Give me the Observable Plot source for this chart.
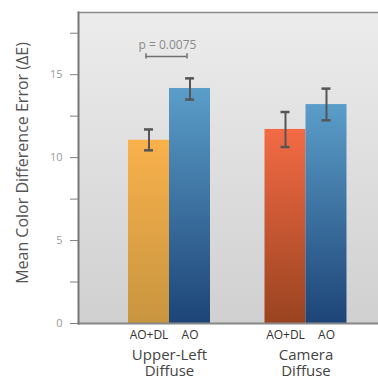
<!DOCTYPE html>
<html>
<head>
<meta charset="utf-8">
<script src="https://cdn.jsdelivr.net/npm/d3@7"></script>
<script src="https://cdn.jsdelivr.net/npm/@observablehq/plot@0.6"></script>
<style>
  html, body { margin: 0; padding: 0; background: #fff; overflow: hidden; }
  svg { display: block; }
</style>
</head>
<body>
<div id="chart"></div>
<script>
// ---- data ----
const groups = ["Upper-Left\nDiffuse", "Upper-Left\nDiffuse", "Camera\nDiffuse", "Camera\nDiffuse"];
const conditions = ["AO+DL", "AO", "AO+DL", "AO"];
const means = [11.05, 14.17, 11.7, 13.2];
const errLow = [10.44, 13.5, 10.64, 12.25];
const errHigh = [11.7, 14.78, 12.75, 14.16];
const groupOrder = ["Upper-Left\nDiffuse", "Camera\nDiffuse"];
const conditionOrder = ["AO+DL", "AO"];
const yTicks = [0, 2.5, 5, 7.5, 10, 12.5, 15, 17.5];
const yTickLabels = ["0", "", "5", "", "10", "", "15", ""];
const yLabel = "Mean Color Difference Error (\u0394E)";
const pGroup = ["Upper-Left\nDiffuse"];
const pText = ["p = 0.0075"];
const yMax = 18.75;

const rows = groups.map((g, i) => ({group: g, cond: conditions[i], mean: means[i], lo: errLow[i], hi: errHigh[i]}));
const gradFor = d => d.cond === "AO" ? "url(#g-blue)" : (d.group.startsWith("Upper") ? "url(#g-amber)" : "url(#g-red)");
const pRows = pGroup.map((g, i) => ({group: g, text: pText[i]}));

const font = "'Open Sans', sans-serif";
const W = 378, H = 379, ML = 78, MR = 0, MT = 12, MB = 56;
const xOptions = {domain: groupOrder, paddingInner: 0.3993, paddingOuter: 0.2986, align: 0.6135, round: false};
// each group band is split in two halves, one per condition (same band geometry as Plot's x scale)
const band = d3.scaleBand().domain(groupOrder).range([ML, W - MR])
  .paddingInner(xOptions.paddingInner).paddingOuter(xOptions.paddingOuter).align(xOptions.align);
const half = band.bandwidth() / 2;
const shift = c => (conditionOrder.indexOf(c) - 0.5) * half;

const perCondition = conditionOrder.flatMap((c, k) => {
  const sub = rows.filter(d => d.cond === c);
  return [
    Plot.barY(sub, {x: "group", y: "mean", fill: gradFor, insetLeft: k * half, insetRight: (1 - k) * half}),
    Plot.ruleX(sub, {x: "group", y1: "lo", y2: "hi", dx: shift(c), stroke: "#555", strokeWidth: 2}),
    Plot.tickY(sub, {x: "group", y: "lo", insetLeft: k * half + 16, insetRight: (1 - k) * half + 16, stroke: "#555", strokeWidth: 2.5}),
    Plot.tickY(sub, {x: "group", y: "hi", insetLeft: k * half + 16, insetRight: (1 - k) * half + 16, stroke: "#555", strokeWidth: 2.5}),
    Plot.text(sub, {x: "group", text: "cond", frameAnchor: "bottom", lineAnchor: "top", dy: 7, dx: shift(c), fill: "#333", fontSize: 12})
  ];
});

const chart = Plot.plot({
  width: W,
  height: H,
  marginLeft: ML,
  marginRight: MR,
  marginTop: MT,
  marginBottom: MB,
  style: {fontFamily: font, background: "#fff"},
  x: {...xOptions, axis: null, label: null},
  y: {domain: [0, yMax], axis: null, label: null},
  color: {type: "identity"},
  marks: [
    Plot.frame({fill: "url(#g-bg)", stroke: null}),
    ...perCondition,
    Plot.frame({anchor: "top", stroke: "#8a8a8a", strokeWidth: 1.5}),
    Plot.frame({anchor: "bottom", stroke: "#878787", strokeWidth: 2}),
    Plot.frame({anchor: "left", stroke: "#777", strokeWidth: 2}),
    // significance bracket between the two halves of the group
    Plot.ruleY(pRows, {x1: "group", x2: "group", y: () => 16.1, stroke: "#707070", strokeWidth: 1.5, insetLeft: half / 2 - 3, insetRight: half / 2 + 3}),
    ...conditionOrder.map(c => Plot.ruleX(pRows, {x: "group", y1: () => 15.95, y2: () => 16.27, dx: shift(c) - 3, stroke: "#707070", strokeWidth: 1.5})),
    Plot.text(pRows, {x: "group", y: () => 16.8, text: "text", fill: "#8a8a8a", fontSize: 12, dx: -2}),
    // axes
    Plot.axisY({ticks: yTicks, tickFormat: (d, i) => yTickLabels[i], tickSize: 8, tickPadding: 8, stroke: "#808080", fill: "#9a9a9a", fontSize: 11, label: null}),
    Plot.text([yLabel], {frameAnchor: "left", textAnchor: "middle", rotate: -90, dx: -56, dy: -5, fill: "#555", fontSize: 16}),
    Plot.axisX({anchor: "bottom", tickSize: 0, tickPadding: 25, fill: "#444", fontSize: 15, lineHeight: 1.08, label: null})
  ]
});

const svg = d3.select(chart);
const defs = svg.insert("defs", ":first-child");
function grad(id, top, bottom) {
  const g = defs.append("linearGradient").attr("id", id).attr("x1", 0).attr("y1", 0).attr("x2", 0).attr("y2", 1);
  g.append("stop").attr("offset", "0%").attr("stop-color", top);
  g.append("stop").attr("offset", "100%").attr("stop-color", bottom);
}
grad("g-bg", "#ececec", "#d0d0d1");
grad("g-amber", "#f9b14c", "#c8953f");
grad("g-red", "#f36b45", "#9a4320");
grad("g-blue", "#5b9ec9", "#1d4477");

document.getElementById("chart").appendChild(chart);
</script>
</body>
</html>
